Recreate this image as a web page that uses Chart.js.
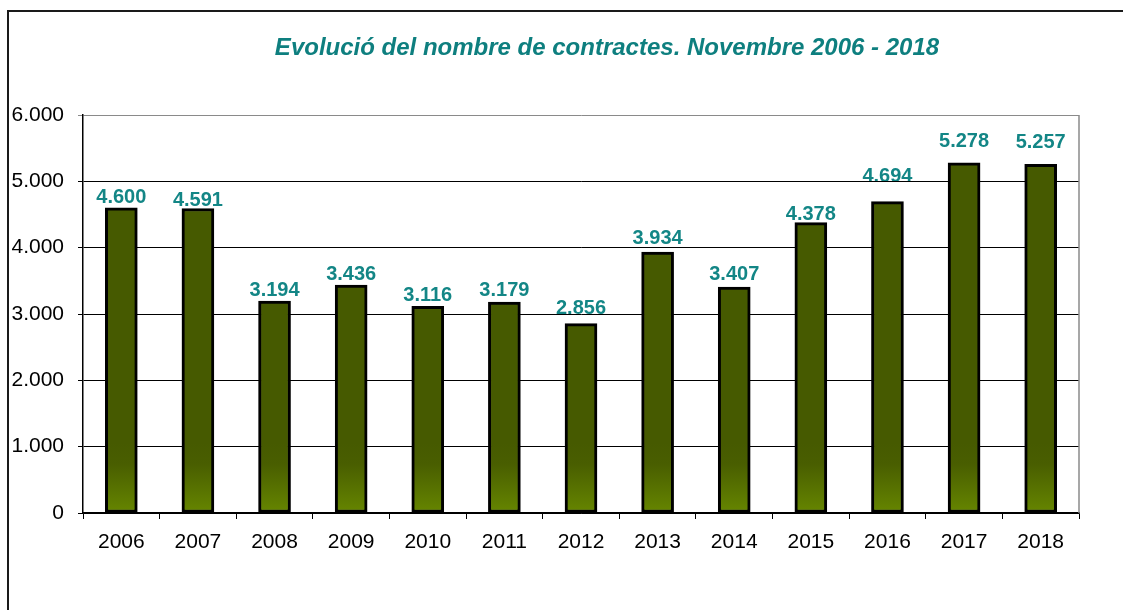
<!DOCTYPE html>
<html>
<head>
<meta charset="utf-8">
<script src="https://cdn.jsdelivr.net/npm/chart.js@4"></script>
<style>
  html, body { margin: 0; padding: 0; background: #fff; }
</style>
</head>
<body>
<canvas id="grafic" width="1123" height="610"></canvas>
<script>
const anys = ["2006", "2007", "2008", "2009", "2010", "2011", "2012", "2013", "2014", "2015", "2016", "2017", "2018"];
const contractes = [4600, 4591, 3194, 3436, 3116, 3179, 2856, 3934, 3407, 4378, 4694, 5278, 5257];
const titol = "Evolució del nombre de contractes. Novembre 2006 - 2018";
const eixY = { min: 0, max: 6000, pas: 1000 };

// separacio (px) entre la barra i la seva etiqueta, com a l'original
const separacioEtiqueta = [5, 2, 5, 5, 5, 6, 10, 8, 7, 3, 20, 16, 16];

// format amb punt de milers (4.600)
const ambPunts = (v) => String(v).replace(/\B(?=(\d{3})+(?!\d))/g, ".");

// marc exterior, titol, etiquetes (sota la graella) i vora dreta de l'area
const decorat = {
  id: "decorat",
  beforeDraw(chart) {
    const ctx = chart.ctx;
    ctx.save();
    ctx.fillStyle = "#fff";
    ctx.fillRect(0, 0, chart.width, chart.height);
    ctx.strokeStyle = "#1a1a1a";
    ctx.lineWidth = 2;
    ctx.beginPath();
    ctx.moveTo(8, chart.height);
    ctx.lineTo(8, 11);
    ctx.lineTo(chart.width, 11);
    ctx.stroke();
    ctx.font = 'italic bold 24px "Liberation Sans", Arial, sans-serif';
    ctx.fillStyle = "#0e7f7f";
    ctx.textAlign = "center";
    ctx.textBaseline = "middle";
    ctx.fillText(titol, 607, 48);

    const meta = chart.getDatasetMeta(0);
    ctx.font = 'bold 20px "Liberation Sans", Arial, sans-serif';
    ctx.fillStyle = "#138686";
    ctx.textBaseline = "alphabetic";
    meta.data.forEach((barra, i) => {
      ctx.fillText(ambPunts(contractes[i]), barra.x, barra.y - separacioEtiqueta[i]);
    });
    ctx.restore();
  },
  beforeDatasetsDraw(chart) {
    const { ctx, chartArea } = chart;
    ctx.save();
    ctx.strokeStyle = "#8a8a8a";
    ctx.lineWidth = 1.5;
    ctx.beginPath();
    ctx.moveTo(chartArea.right, chartArea.top);
    ctx.lineTo(chartArea.right, chartArea.bottom);
    ctx.stroke();
    ctx.restore();
  }
};

const farciment = (context) => {
  const chart = context.chart;
  const area = chart.chartArea;
  if (!area) return "#465a00";
  const g = chart.ctx.createLinearGradient(0, area.bottom - 70, 0, area.bottom);
  g.addColorStop(0, "#465a00");
  g.addColorStop(0.3, "#495e00");
  g.addColorStop(1, "#668600");
  return g;
};

new Chart(document.getElementById("grafic"), {
  type: "bar",
  data: {
    labels: anys,
    datasets: [{
      label: "Contractes",
      data: contractes,
      backgroundColor: farciment,
      borderColor: "#000",
      borderWidth: 3,
      borderSkipped: false,
      barThickness: 32
    }]
  },
  options: {
    responsive: false,
    animation: false,
    layout: { padding: { top: 115, right: 44, left: 0, bottom: 0 } },
    plugins: {
      legend: { display: false },
      tooltip: { enabled: false },
      title: { display: false }
    },
    scales: {
      x: {
        afterFit: (s) => { s.height = 97; },
        grid: {
          display: true,
          drawOnChartArea: false,
          offset: true,
          tickLength: 6,
          color: "#000"
        },
        border: { display: true, color: "#000", width: 1.5 },
        ticks: {
          color: "#000",
          padding: 11,
          font: { family: '"Liberation Sans", Arial, sans-serif', size: 21 }
        }
      },
      y: {
        min: eixY.min,
        max: eixY.max,
        afterFit: (s) => { s.width = 83; },
        grid: {
          color: (c) => (c.tick && c.tick.value === eixY.max ? "#8a8a8a" : "#000"),
          lineWidth: 1,
          tickLength: 5
        },
        border: { display: true, color: "#000", width: 1.5 },
        ticks: {
          stepSize: eixY.pas,
          color: "#000",
          padding: 14,
          font: { family: '"Liberation Sans", Arial, sans-serif', size: 21 },
          callback: (v) => ambPunts(v)
        }
      }
    }
  },
  plugins: [decorat]
});
</script>
</body>
</html>
